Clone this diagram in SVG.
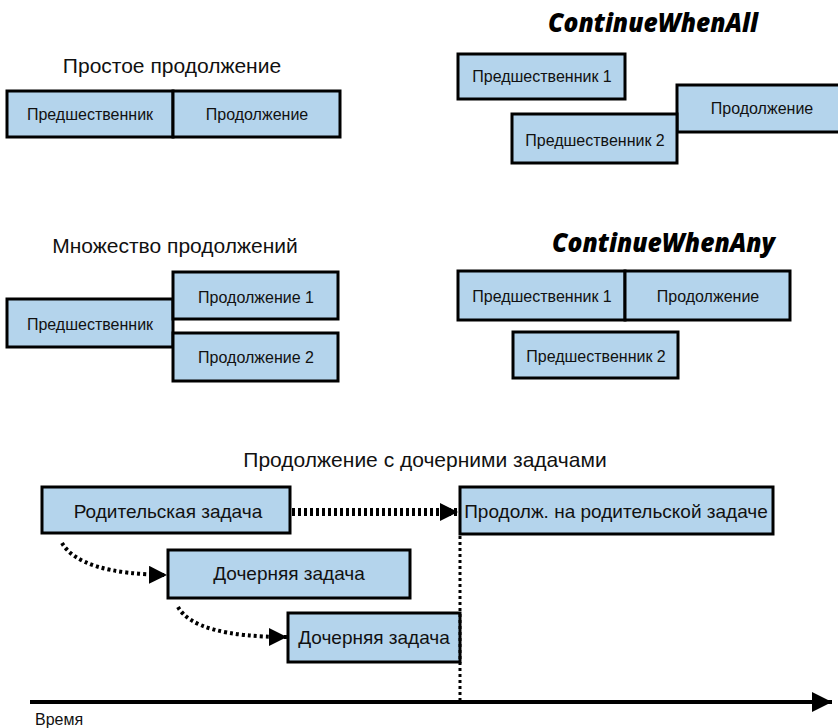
<svg xmlns="http://www.w3.org/2000/svg" width="838" height="728" viewBox="0 0 838 728">
<style>
.box{fill:#b4d4ec;stroke:#000;stroke-width:3}
.t{font-family:"Liberation Sans",Arial,sans-serif;font-size:16px;fill:#111;text-anchor:middle}
.tb{font-family:"Liberation Sans",Arial,sans-serif;font-size:19px;fill:#111;text-anchor:middle}
.h{font-family:"Liberation Sans",Arial,sans-serif;font-size:21px;fill:#111;text-anchor:middle}
.hi{font-family:"Open Sans","DejaVu Sans",sans-serif;font-size:26px;font-weight:800;font-style:italic;fill:#000}
.dot{fill:none;stroke:#000}
</style>
<defs>
<marker id="ah" markerWidth="20" markerHeight="20" refX="18" refY="9" orient="auto" markerUnits="userSpaceOnUse">
<path d="M0,0 L18,9 L0,18 Z" fill="#000"/>
</marker>
<marker id="axh" markerWidth="22" markerHeight="22" refX="20" refY="10" orient="auto" markerUnits="userSpaceOnUse">
<path d="M0,0 L20,10 L0,20 Z" fill="#000"/>
</marker>
</defs>

<g id="simple">
<text class="h" x="172" y="73">Простое продолжение</text>
<g id="s-pred"><rect class="box" x="7" y="91" width="166" height="46"/><text class="t" x="90" y="120">Предшественник</text></g>
<g id="s-cont"><rect class="box" x="173" y="91" width="167" height="46"/><text class="t" x="257" y="120">Продолжение</text></g>
</g>

<g id="whenall">
<text class="hi" x="548" y="32" textLength="210" lengthAdjust="spacingAndGlyphs">ContinueWhenAll</text>
<g id="a-pred1"><rect class="box" x="458" y="54" width="167" height="45"/><text class="t" x="542" y="82">Предшественник  1</text></g>
<g id="a-cont"><rect class="box" x="677" y="85" width="163" height="47"/><text class="t" x="762" y="114">Продолжение</text></g>
<g id="a-pred2"><rect class="box" x="512" y="114" width="165" height="49"/><text class="t" x="595" y="146">Предшественник  2</text></g>
</g>

<g id="multi">
<text class="h" x="175" y="253">Множество продолжений</text>
<g id="m-pred"><rect class="box" x="7" y="299" width="166" height="48"/><text class="t" x="90" y="330">Предшественник</text></g>
<g id="m-cont1"><rect class="box" x="173" y="272" width="165" height="47"/><text class="t" x="256" y="303">Продолжение 1</text></g>
<g id="m-cont2"><rect class="box" x="173" y="333" width="165" height="48"/><text class="t" x="256" y="363">Продолжение 2</text></g>
</g>

<g id="whenany">
<text class="hi" x="552" y="252" textLength="223" lengthAdjust="spacingAndGlyphs">ContinueWhenAny</text>
<g id="y-pred1"><rect class="box" x="458" y="271" width="167" height="49"/><text class="t" x="542" y="302">Предшественник  1</text></g>
<g id="y-cont"><rect class="box" x="625" y="271" width="165" height="49"/><text class="t" x="708" y="302">Продолжение</text></g>
<g id="y-pred2"><rect class="box" x="513" y="332" width="165" height="46"/><text class="t" x="596" y="362">Предшественник  2</text></g>
</g>

<g id="children">
<text class="h" x="425" y="467">Продолжение с дочерними задачами</text>
<g id="c-parent"><rect class="box" x="42" y="487" width="248" height="46"/><text class="tb" x="168" y="518">Родительская задача</text></g>
<g id="c-cont"><rect class="box" x="460" y="487" width="313" height="47"/><text class="tb" x="616" y="518">Продолж. на родительской задаче</text></g>
<g id="c-child1"><rect class="box" x="168" y="550" width="242" height="48"/><text class="tb" x="289" y="580">Дочерняя задача</text></g>
<g id="c-child2"><rect class="box" x="288" y="613" width="172" height="49"/><text class="tb" x="374" y="644">Дочерняя задача</text></g>
</g>

<g id="connectors">
<path class="dot" d="M292,512 L458,512" stroke-width="8" stroke-dasharray="3,3" marker-end="url(#ah)"/>
<path class="dot" d="M62,543 Q80,574 167,575" stroke-width="4" stroke-dasharray="3,3" marker-end="url(#ah)"/>
<path class="dot" d="M178,607 Q195,637 287,637" stroke-width="4" stroke-dasharray="3,3" marker-end="url(#ah)"/>
<path class="dot" d="M460,536 L460,702" stroke-width="3" stroke-dasharray="3,3"/>
<path d="M30,702 L832,702" stroke="#000" stroke-width="4" fill="none" marker-end="url(#axh)"/>
</g>
<text x="35" y="725" font-family="Liberation Sans,Arial,sans-serif" font-size="16" fill="#111">Время</text>
</svg>
